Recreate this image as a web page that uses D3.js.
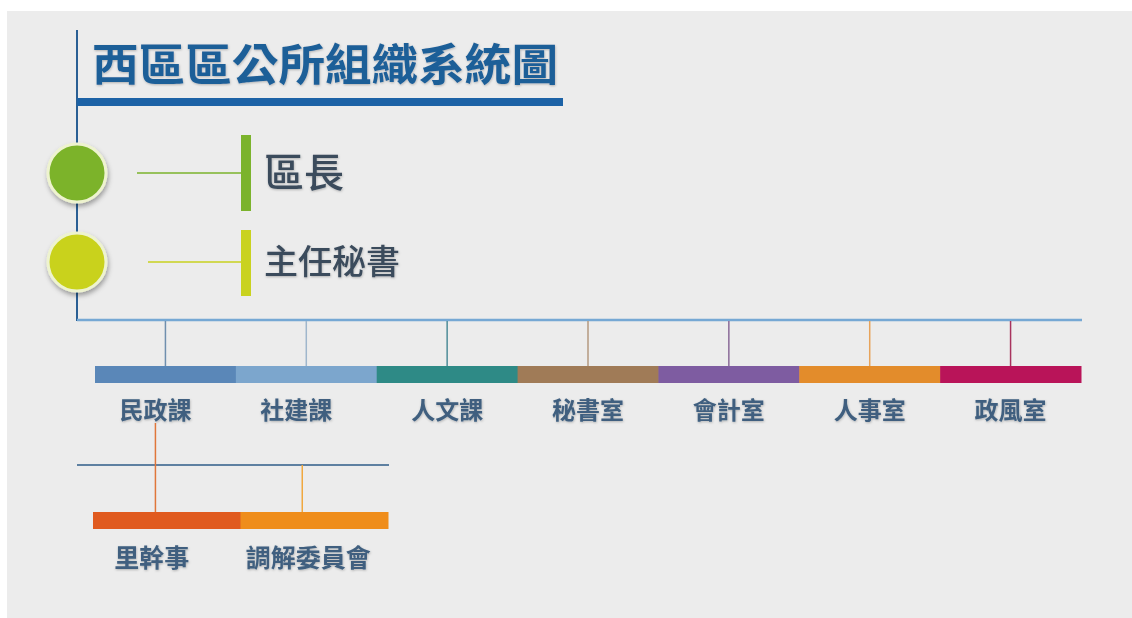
<!DOCTYPE html>
<html><head><meta charset="utf-8">
<script src="https://cdn.jsdelivr.net/npm/d3@7"></script>
<style>
html,body{margin:0;padding:0;background:#fff;}
svg{display:block;}
text{font-family:"Noto Sans CJK TC","Noto Sans CJK SC",sans-serif;}
</style></head><body>
<script>
const title = "西區區公所組織系統圖";
const leaders = ["區長", "主任秘書"];
const leaderColors = ["#7bb32c", "#c9d21f"];
const leaderFontSizes = [40, 34];
const departments = ["民政課", "社建課", "人文課", "秘書室", "會計室", "人事室", "政風室"];
const deptColors = ["#5a87b8", "#7ca6cd", "#2e8a86", "#a07b57", "#7e5ca1", "#e38c2b", "#b91459"];
const lineColors = ["#6f8fae", "#9fb6cc", "#4e8c98", "#b59a80", "#8a6a98", "#e7a35a", "#a8335e"];
const subUnits = ["里幹事", "調解委員會"];
const subColors = ["#e05a1f", "#ef8d1b"];
const subLineColors = ["#e0763a", "#f0a840"];

const W = 1132, H = 618;
const svg = d3.select("body").append("svg").attr("width", W).attr("height", H);
const defs = svg.append("defs");
const f = defs.append("filter").attr("id","sh").attr("x","-30%").attr("y","-30%").attr("width","160%").attr("height","160%");
f.append("feDropShadow").attr("dx",1).attr("dy",3).attr("stdDeviation",2.5).attr("flood-color","#000").attr("flood-opacity",0.35);
const ft = defs.append("filter").attr("id","tsh").attr("x","-10%").attr("y","-20%").attr("width","120%").attr("height","140%");
ft.append("feDropShadow").attr("dx",0.5).attr("dy",1).attr("stdDeviation",0.8).attr("flood-color","#000").attr("flood-opacity",0.25);

svg.append("rect").attr("x",7).attr("y",11).attr("width",W-7).attr("height",H-11).attr("fill","#ececec");

const spineX = 77;
svg.append("line").attr("x1",spineX).attr("x2",spineX).attr("y1",30).attr("y2",321)
  .attr("stroke","#2a5f94").attr("stroke-width",2);

// title
svg.append("text").attr("x",92).attr("y",81).attr("font-size",44).attr("font-weight",600)
  .attr("fill","#1f5e98").attr("filter","url(#tsh)").attr("textLength",466).attr("lengthAdjust","spacingAndGlyphs").text(title);
svg.append("rect").attr("x",spineX).attr("y",98).attr("width",486).attr("height",8).attr("fill","#1c62a6");

// leaders
const yL = d3.scalePoint().domain(leaders).range([173, 262]);
const lg = svg.selectAll("g.leader").data(leaders).join("g").attr("class","leader");
lg.append("line").attr("x1",(d,i)=> i===0?137:148).attr("x2",243)
  .attr("y1",d=>yL(d)).attr("y2",d=>yL(d)).attr("stroke",(d,i)=>leaderColors[i]).attr("stroke-width",1.5);
lg.append("rect").attr("x",241).attr("width",10)
  .attr("y",(d,i)=> yL(d) - (i===0?38:32)).attr("height",(d,i)=> i===0?76:66)
  .attr("fill",(d,i)=>leaderColors[i]);
lg.append("circle").attr("cx",spineX).attr("cy",d=>yL(d)).attr("r",29)
  .attr("fill",(d,i)=>leaderColors[i]).attr("stroke","#eef3cf").attr("stroke-width",3).attr("filter","url(#sh)");
lg.append("text").attr("x",264).attr("y",d=>yL(d)).attr("dy","0.36em")
  .attr("font-size",(d,i)=>leaderFontSizes[i]).attr("font-weight",500).attr("fill","#3b4b5c")
  .attr("filter","url(#tsh)").text(d=>d);

// departments
const barY = 366, barH = 17, busY = 320;
const x = d3.scaleBand().domain(departments).range([95, 1081]).padding(0);
svg.append("line").attr("x1",spineX).attr("x2",1082).attr("y1",busY).attr("y2",busY)
  .attr("stroke","#76a8d4").attr("stroke-width",2.5);
const dg = svg.selectAll("g.dept").data(departments).join("g").attr("class","dept");
dg.append("line").attr("x1",d=>x(d)+x.bandwidth()/2).attr("x2",d=>x(d)+x.bandwidth()/2)
  .attr("y1",busY+1).attr("y2",barY).attr("stroke",(d,i)=>lineColors[i]).attr("stroke-width",1.5);
dg.append("rect").attr("x",d=>x(d)).attr("y",barY).attr("width",x.bandwidth()+0.5).attr("height",barH)
  .attr("fill",(d,i)=>deptColors[i]);
dg.append("text").attr("x",(d,i)=>x(d)+x.bandwidth()/2 - (i<2?10:0)).attr("y",410).attr("dy","0.36em")
  .attr("text-anchor","middle").attr("font-size",24).attr("font-weight",700).attr("fill","#3f5f7f")
  .attr("filter","url(#tsh)").text(d=>d);

// sub units under 民政課
const subBarY = 512, subBusY = 465;
const xs = d3.scaleBand().domain(subUnits).range([93, 388]).padding(0);
const parentX = x(departments[0]) + x.bandwidth()/2 - 10;
svg.append("line").attr("x1",spineX).attr("x2",389).attr("y1",subBusY).attr("y2",subBusY)
  .attr("stroke","#2f5d88").attr("stroke-width",1.5);
svg.append("line").attr("x1",parentX).attr("x2",parentX).attr("y1",423).attr("y2",subBarY)
  .attr("stroke",subLineColors[0]).attr("stroke-width",1.5);
const sg = svg.selectAll("g.sub").data(subUnits).join("g").attr("class","sub");
sg.filter((d,i)=>i>0).append("line").attr("x1",d=>xs(d)+xs.bandwidth()/2-12).attr("x2",d=>xs(d)+xs.bandwidth()/2-12)
  .attr("y1",subBusY).attr("y2",subBarY).attr("stroke",subLineColors[1]).attr("stroke-width",1.5);
sg.append("rect").attr("x",d=>xs(d)).attr("y",subBarY).attr("width",xs.bandwidth()+0.5).attr("height",barH)
  .attr("fill",(d,i)=>subColors[i]);
sg.append("text").attr("x",(d,i)=>xs(d)+xs.bandwidth()/2 + (i===0?-15:-6)).attr("y",558).attr("dy","0.36em")
  .attr("text-anchor","middle").attr("font-size",25).attr("font-weight",700).attr("fill","#3f5f7f")
  .attr("filter","url(#tsh)").text(d=>d);
</script>
</body></html>
